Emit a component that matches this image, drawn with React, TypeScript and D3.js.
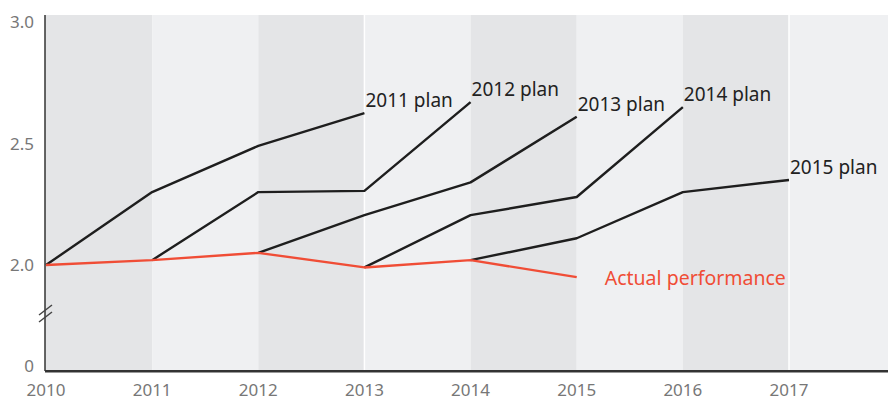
import React from "react";
import * as d3 from "d3";

const years = [2010, 2011, 2012, 2013, 2014, 2015, 2016, 2017];
const yTicks = [3.0, 2.5, 2.0];

const actualYears = [2010, 2011, 2012, 2013, 2014, 2015];
const actualValues = [2.0, 2.02, 2.05, 1.99, 2.02, 1.95];

const planNames = ["2011 plan", "2012 plan", "2013 plan", "2014 plan", "2015 plan"];
const planStartYears = [2010, 2011, 2012, 2013, 2014];
const plan2011 = [2.0, 2.3, 2.49, 2.625];
const plan2012 = [2.02, 2.3, 2.305, 2.67];
const plan2013 = [2.05, 2.205, 2.34, 2.61];
const plan2014 = [1.99, 2.205, 2.28, 2.65];
const plan2015 = [2.02, 2.11, 2.3, 2.35];
const planValues = [plan2011, plan2012, plan2013, plan2014, plan2015];

const W = 888;
const H = 401;

export default function App() {
  const left = 45;
  const right = 888;
  const top = 15;
  const bottom = 371;

  const x = d3.scaleLinear().domain([2010, 2017]).range([46, 789]);
  const y = d3.scaleLinear().domain([2, 3]).range([265, 22]);
  const zeroY = 365;

  const line = d3
    .line<[number, number]>()
    .x((d) => x(d[0]))
    .y((d) => y(d[1]));

  const dark = "#e4e5e7";
  const light = "#eff0f2";
  const font = "'Noto Sans', 'Open Sans', sans-serif";

  return (
    <svg
      width={W}
      height={H}
      style={{ position: "absolute", left: 0, top: 0, background: "#fff" }}
    >
      {years.map((yr, i) => {
        const x0 = i === 0 ? left : x(yr);
        const x1 = i === years.length - 1 ? right : x(yr + 1);
        return (
          <rect
            key={yr}
            x={x0}
            y={top}
            width={Math.min(x1, right) - x0}
            height={bottom - top}
            fill={i % 2 === 0 ? dark : light}
          />
        );
      })}
      {[2013, 2017].map((yr) => (
        <line
          key={yr}
          x1={x(yr)}
          x2={x(yr)}
          y1={top}
          y2={bottom}
          stroke="#fff"
          strokeWidth={1.5}
        />
      ))}

      {planValues.map((vals, i) => {
        const pts: [number, number][] = vals.map((v, j) => [planStartYears[i] + j, v]);
        const last = pts[pts.length - 1];
        return (
          <g key={planNames[i]}>
            <path d={line(pts) || ""} fill="none" stroke="#1e1e1e" strokeWidth={2.4} strokeLinejoin="round" />
            <text
              x={x(last[0]) + 1}
              y={y(last[1]) - 6}
              fontFamily={font}
              fontSize={19}
              fill="#222"
            >
              {planNames[i]}
            </text>
          </g>
        );
      })}

      <path
        d={line(actualYears.map((yr, i) => [yr, actualValues[i]] as [number, number])) || ""}
        fill="none"
        stroke="#f04d36"
        strokeWidth={2.4}
        strokeLinejoin="round"
      />
      <text
        x={x(2015) + 28}
        y={285}
        fontFamily={font}
        fontSize={19.5}
        fill="#f04d36"
      >
        Actual performance
      </text>

      <line x1={left} x2={left} y1={top} y2={bottom} stroke="#333" strokeWidth={1.5} />
      <line x1={left} x2={right} y1={bottom} y2={bottom} stroke="#333" strokeWidth={2} />
      <line x1={left} x2={right} y1={bottom + 1.5} y2={bottom + 1.5} stroke="#999" strokeWidth={1} />
      <line x1={39} y1={315} x2={52} y2={305} stroke="#444" strokeWidth={1.5} />
      <line x1={39} y1={322} x2={52} y2={312} stroke="#444" strokeWidth={1.5} />

      {yTicks.map((t) => (
        <text
          key={t}
          x={34}
          y={y(t) - 0.5}
          textAnchor="end"
          dominantBaseline="central"
          fontFamily={font}
          fontSize={17}
          fill="#777"
        >
          {d3.format(".1f")(t)}
        </text>
      ))}
      <text
        x={34}
        y={zeroY}
        textAnchor="end"
        dominantBaseline="central"
        fontFamily={font}
        fontSize={17}
        fill="#777"
      >
        0
      </text>
      {years.map((yr) => (
        <text
          key={yr}
          x={x(yr)}
          y={396}
          textAnchor="middle"
          fontFamily={font}
          fontSize={17}
          fill="#777"
        >
          {yr}
        </text>
      ))}
    </svg>
  );
}
